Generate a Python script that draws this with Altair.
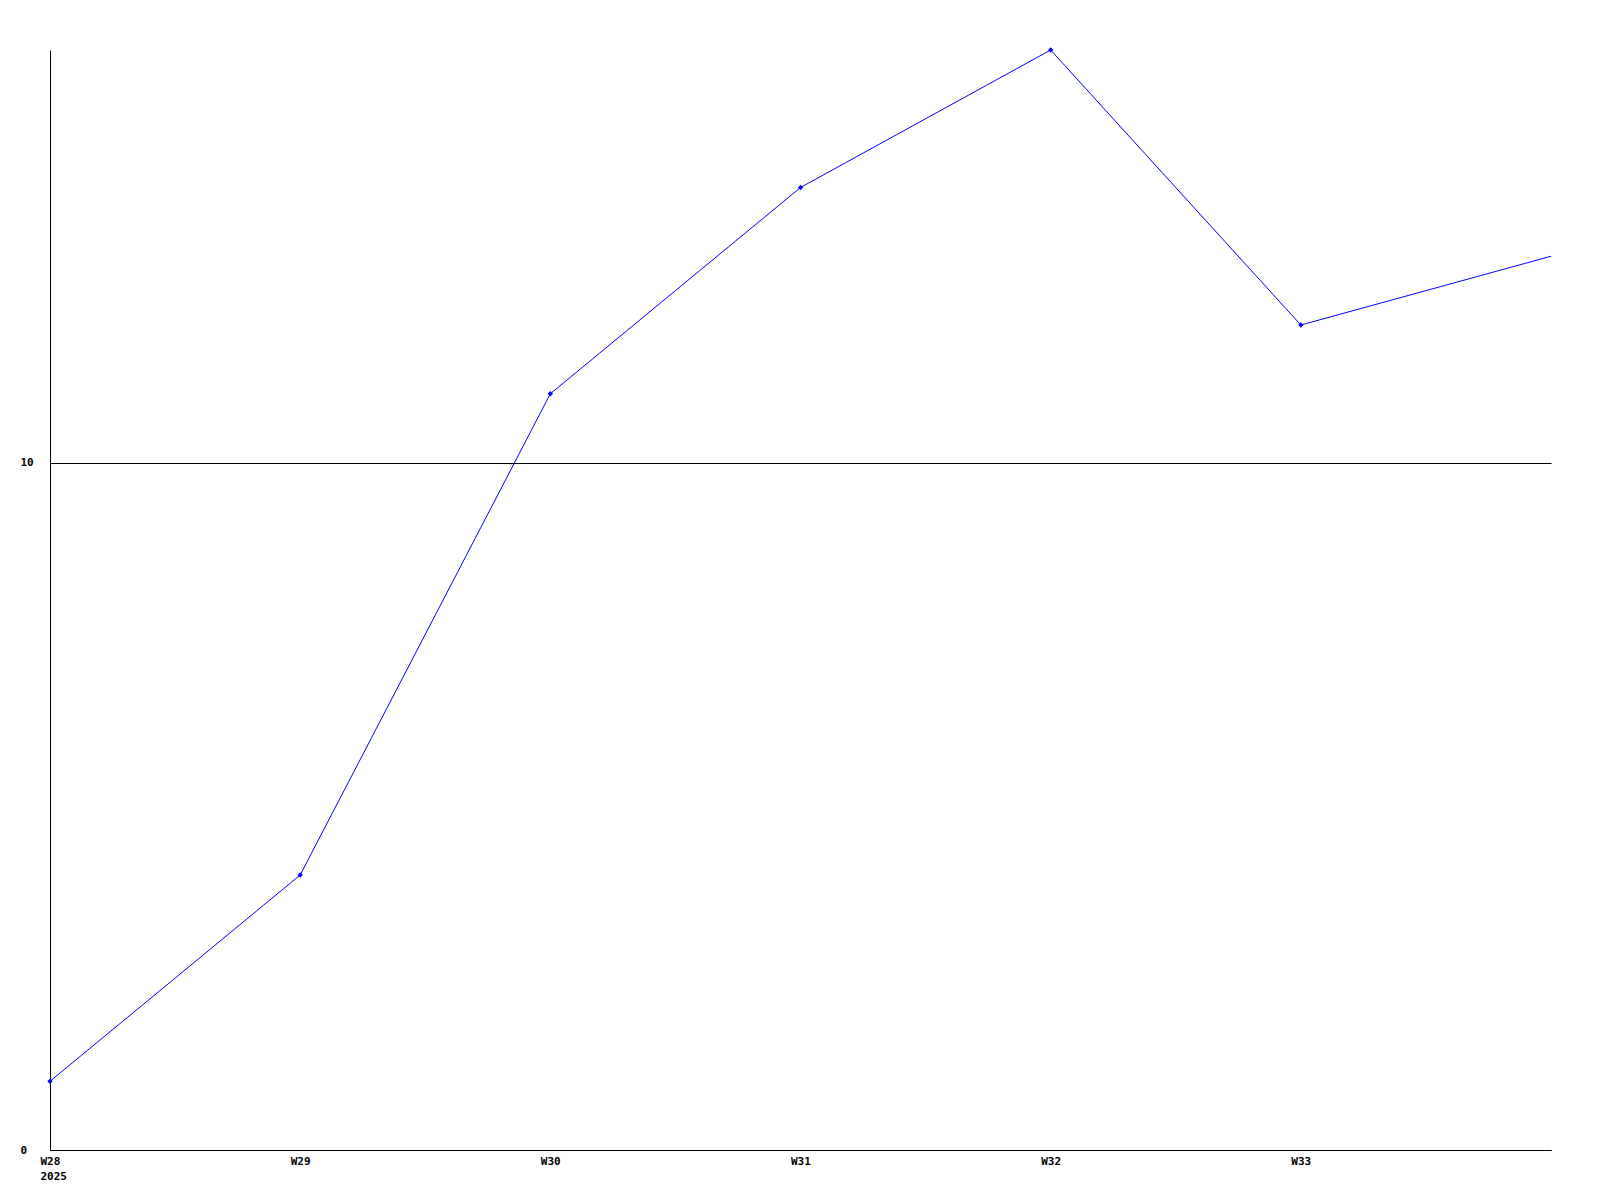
import altair as alt
import pandas as pd

weeks = [28, 29, 30, 31, 32, 33, 34]
values = [1, 4, 11, 14, 16, 12, 13]
marker_weeks = [28, 29, 30, 31, 32, 33]
tick_weeks = [28, 29, 30, 31, 32, 33]
y_ticks = [0, 10]
year_label = "2025"

df = pd.DataFrame({"week": weeks, "value": values})
df["marker"] = df["week"].isin(marker_weeks)

FONT = "DejaVu Sans Mono"

x = alt.X(
    "week:Q",
    scale=alt.Scale(domain=[28, 34], nice=False, zero=False),
    axis=alt.Axis(
        values=tick_weeks,
        labelExpr=f"datum.value == 28 ? ['W28', '{year_label}'] : 'W' + datum.value",
        title=None,
        ticks=False,
        grid=False,
        domainColor="black",
        domainWidth=1,
        labelFont=FONT,
        labelFontSize=11,
        labelFontWeight="bold",
        labelColor="black",
        labelAlign="left",
        labelOffset=-10,
        labelPadding=5,
        labelLineHeight=15,
        labelFlush=False,
        labelOverlap=False,
    ),
)
y = alt.Y(
    "value:Q",
    scale=alt.Scale(domain=[0, 16], nice=False),
    axis=alt.Axis(
        values=y_ticks,
        title=None,
        ticks=False,
        grid=True,
        gridColor="black",
        gridOpacity=1,
        gridWidth=1,
        domainColor="black",
        domainWidth=1,
        labelFont=FONT,
        labelFontSize=11,
        labelFontWeight="bold",
        labelColor="black",
        labelAlign="left",
        labelPadding=30,
        labelFlush=False,
    ),
)

line = alt.Chart(df).mark_line(color="#0000FF", strokeWidth=1).encode(x=x, y=y)
points = (
    alt.Chart(df)
    .transform_filter("datum.marker")
    .mark_point(shape="diamond", filled=True, color="#0000FF", size=28, opacity=1)
    .encode(x=x, y=y)
)

chart = (
    alt.layer(line, points)
    .properties(
        width=1501,
        height=1100,
        autosize=alt.AutoSizeParams(type="none"),
        padding={"left": 42, "top": 42, "right": 40, "bottom": 42},
    )
    .configure(
        background="white",
        view=alt.ViewConfig(strokeWidth=0, strokeOpacity=0, stroke="transparent"),
        style={"cell": {"stroke": "transparent", "strokeWidth": 0}},
    )
)

chart.save("out.html", embed_options={"renderer": "svg", "actions": False})
